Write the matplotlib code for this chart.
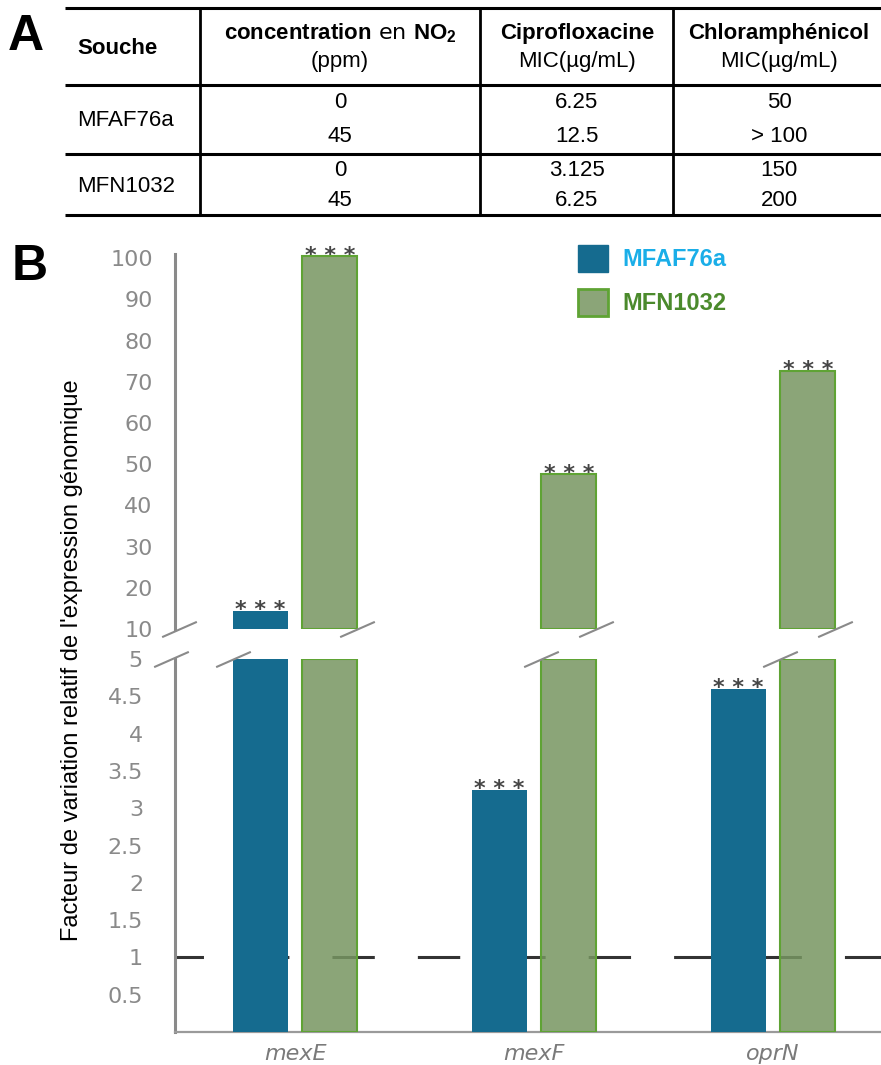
import numpy as np
import matplotlib
matplotlib.use('Agg')
import matplotlib.pyplot as plt
from matplotlib.patches import Patch

# --- data (panel B) ---
genes = ['mexE', 'mexF', 'oprN']
mfaf76a = [14.4, 3.25, 4.6]       # fold change, MFAF76a
mfn1032 = [100.5, 47.6, 72.7]     # fold change, MFN1032
stars_mfaf76a = ['***', '***', '***']
stars_mfn1032 = ['***', '***', '***']
ticks_up = [10, 20, 30, 40, 50, 60, 70, 80, 90, 100]
ticks_lo = [0.5, 1, 1.5, 2, 2.5, 3, 3.5, 4, 4.5, 5]
tick_lo_labels = ['0.5', '1', '1.5', '2', '2.5', '3', '3.5', '4', '4.5', '5']
baseline_level = 1

# --- data (panel A) ---
souches = ['MFAF76a', 'MFN1032']
no2_ppm = ['0', '45', '0', '45']
cipro_mic = ['6.25', '12.5', '3.125', '6.25']
chloram_mic = ['50', '> 100', '150', '200']

BLUE = '#156b8f'
GREEN = (0.465, 0.59, 0.38, 0.85)
GREEN_EDGE = '#5fa334'
GREY = '#8a8a8a'

plt.rcParams['lines.scale_dashes'] = False
plt.rcParams['mathtext.fontset'] = 'custom'
plt.rcParams['mathtext.rm'] = 'Liberation Sans'
plt.rcParams['mathtext.bf'] = 'Liberation Sans:bold'

W, H = 881, 1065
fig = plt.figure(figsize=(W / 100, H / 100), dpi=100)


def px_box(x0, y0, x1, y1):
    return [x0 / W, 1 - y1 / H, (x1 - x0) / W, (y1 - y0) / H]


# background axes in pixel units for the table and labels
bg = fig.add_axes([0, 0, 1, 1])
bg.set_xlim(0, W)
bg.set_ylim(H, 0)
bg.axis('off')

sans = 'Liberation Sans'
# table rules
for yy in [8, 85, 154, 215]:
    bg.plot([65, W], [yy, yy], color='black', lw=2.2, solid_capstyle='butt')
for xx in [200, 480, 673]:
    bg.plot([xx, xx], [8, 215], color='black', lw=2.0, solid_capstyle='butt')

bg.text(8, 50, 'A', fontsize=36, weight='bold', family=sans, va='baseline')
bg.text(12, 280, 'B', fontsize=36, weight='bold', family=sans, va='baseline')

hs = 16
bg.text(77, 48, 'Souche', fontsize=hs, weight='bold', family=sans, va='center')
bg.text(340, 33, r'$\mathbf{concentration}$ en $\mathbf{NO_2}$', fontsize=hs,
        ha='center', va='center')
bg.text(340, 62, '(ppm)', fontsize=hs, family=sans, ha='center', va='center')
bg.text(577, 33, 'Ciprofloxacine', fontsize=hs, weight='bold', family=sans,
        ha='center', va='center')
bg.text(577, 62, 'MIC(µg/mL)', fontsize=hs, family=sans, ha='center', va='center')
bg.text(779, 33, 'Chloramphénicol', fontsize=hs, weight='bold', family=sans,
        ha='center', va='center')
bg.text(779, 62, 'MIC(µg/mL)', fontsize=hs, family=sans, ha='center', va='center')

row_y = [103, 137, 170, 200]
for i, s in enumerate(souches):
    bg.text(77, (row_y[2 * i] + row_y[2 * i + 1]) / 2 + 1, s, fontsize=hs,
            family=sans, va='center')
for yy, a, b, c in zip(row_y, no2_ppm, cipro_mic, chloram_mic):
    bg.text(340, yy, a, fontsize=hs, family=sans, ha='center', va='center')
    bg.text(577, yy, b, fontsize=hs, family=sans, ha='center', va='center')
    bg.text(779, yy, c, fontsize=hs, family=sans, ha='center', va='center')

bg.text(72, 660, "Facteur de variation relatif de l'expression génomique",
        rotation=90, fontsize=17, family=sans, ha='center', va='center')

# --- broken-axis bar chart ---
ax_up = fig.add_axes(px_box(175, 254, 881, 629))
ax_lo = fig.add_axes(px_box(175, 659, 881, 1032))

x = np.arange(len(genes))
off, bw = 0.146, 0.23
xlim = (-0.502, 2.452)
blue = np.array(mfaf76a)
green = np.array(mfn1032)

# lower panel (0-5)
ax_lo.axhline(baseline_level, color='#333333', lw=2.2,
              linestyle=(10, (30.5, 31)), zorder=1)
ax_lo.bar(x - off, np.minimum(blue, 5), bw, color=BLUE, zorder=3)
ax_lo.bar(x + off, np.minimum(green, 5), bw, facecolor=GREEN,
          edgecolor=GREEN_EDGE, lw=1.5, zorder=4)

# upper panel (10-100)
mb = blue > 10
mg = green > 10
ax_up.bar(x[mb] - off, blue[mb] - 10, bw, bottom=10, color=BLUE, zorder=3)
ax_up.bar(x[mg] + off, green[mg] - 10, bw, bottom=10, facecolor=GREEN,
          edgecolor=GREEN_EDGE, lw=1.5, zorder=4)

star_kw = dict(textcoords='offset points', xytext=(0, -4), ha='center',
               va='baseline', fontsize=16, weight='bold', color='#454545',
               annotation_clip=False)
for xi, v, s in zip(x - off, blue, stars_mfaf76a):
    ax = ax_up if v > 10 else ax_lo
    ax.annotate(s.replace('*', '* ').strip(), (xi, v), **star_kw)
for xi, v, s in zip(x + off, green, stars_mfn1032):
    ax = ax_up if v > 10 else ax_lo
    ax.annotate(s.replace('*', '* ').strip(), (xi, v), **star_kw)

# break marks
brk = [(-1, -0.44), (1, 0.44)]
mk = dict(marker=brk, ms=25, mew=1.5, color=GREY, ls='none', clip_on=False,
          zorder=6)
for i in range(len(genes)):
    right_edge = x[i] + off + bw / 2 if green[i] > 10 else x[i] - off + bw / 2
    ax_up.plot(right_edge, 10, **mk)
    left_edge = x[i] - off - bw / 2 if blue[i] > 5 else x[i] + off - bw / 2
    ax_lo.plot(left_edge, 5, **mk)
ax_up.plot(0.005, 0, transform=ax_up.transAxes, **mk)
ax_lo.plot(-0.005, 1, transform=ax_lo.transAxes, **mk)

for ax in (ax_up, ax_lo):
    ax.set_xlim(*xlim)
    ax.set_facecolor('none')
    for sp in ['top', 'right']:
        ax.spines[sp].set_visible(False)
    ax.spines['left'].set_color(GREY)
    ax.spines['left'].set_linewidth(2.2)
    ax.tick_params(axis='y', length=0, labelsize=16, labelcolor=GREY)
    for lab in ax.get_yticklabels():
        lab.set_family('DejaVu Sans')

ax_up.spines['bottom'].set_visible(False)
ax_up.set_ylim(10, 101)
ax_up.set_yticks(ticks_up)
ax_up.tick_params(axis='y', pad=16)
ax_up.set_xticks([])

ax_lo.set_ylim(0, 5)
ax_lo.set_yticks(ticks_lo)
ax_lo.set_yticklabels(tick_lo_labels)
ax_lo.tick_params(axis='y', pad=23)
ax_lo.spines['bottom'].set_color('#9a9a9a')
ax_lo.spines['bottom'].set_linewidth(1.6)
ax_lo.set_xticks(x)
ax_lo.set_xticklabels(genes, fontstyle='italic', color='#7a7a7a', fontsize=16)
ax_lo.tick_params(axis='x', length=0, pad=9)

ax_up.legend(handles=[Patch(facecolor=BLUE, edgecolor=BLUE),
                      Patch(facecolor=GREEN, edgecolor=GREEN_EDGE, lw=2)],
             labels=['MFAF76a', 'MFN1032'], loc='upper left',
             bbox_to_anchor=(578 / W, 1 - 245 / H),
             bbox_transform=fig.transFigure, frameon=False, borderpad=0,
             borderaxespad=0, handlelength=1.27, handleheight=1.4,
             handletextpad=0.6, labelspacing=0.7,
             prop={'family': sans, 'weight': 'bold', 'size': 17},
             labelcolor=['#1aaee8', '#4b8a2c'])

fig.savefig('out.png', dpi=100)
